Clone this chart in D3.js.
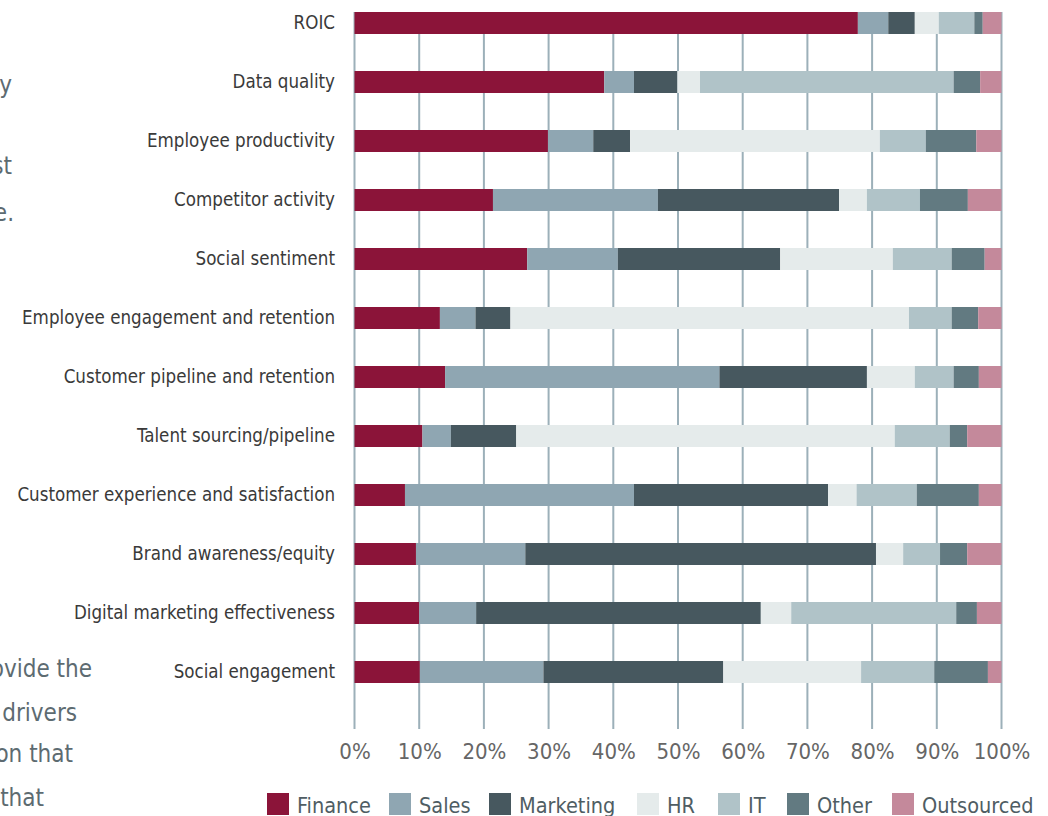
<!DOCTYPE html>
<html>
<head>
<meta charset="utf-8">
<script src="https://cdn.jsdelivr.net/npm/d3@7"></script>
<style>
  body { margin: 0; background: #fff; }
  svg text { font-family: "Liberation Sans Narrow", "DejaVu Sans Condensed", sans-serif; }
</style>
</head>
<body>
<script>
// chart data (percent of respondents)
var categories = ["ROIC", "Data quality", "Employee productivity", "Competitor activity",
  "Social sentiment", "Employee engagement and retention", "Customer pipeline and retention",
  "Talent sourcing/pipeline", "Customer experience and satisfaction", "Brand awareness/equity",
  "Digital marketing effectiveness", "Social engagement"];
var seriesNames = ["Finance", "Sales", "Marketing", "HR", "IT", "Other", "Outsourced"];
var finance    = [77.8, 38.6, 29.9, 21.4, 26.7, 13.2, 14.0, 10.5,  7.8,  9.5, 10.0, 10.1];
var sales      = [ 4.7,  4.6,  7.0, 25.5, 14.0,  5.5, 42.4,  4.4, 35.4, 16.9,  8.8, 19.1];
var marketing  = [ 4.1,  6.7,  5.7, 28.0, 25.1,  5.4, 22.8, 10.1, 30.0, 54.2, 44.0, 27.8];
var hr         = [ 3.7,  3.5, 38.6,  4.3, 17.4, 61.6,  7.4, 58.5,  4.4,  4.2,  4.7, 21.3];
var it         = [ 5.5, 39.2,  7.1,  8.2,  9.1,  6.6,  6.0,  8.5,  9.3,  5.7, 25.5, 11.3];
var other      = [ 1.3,  4.1,  7.8,  7.4,  5.1,  4.1,  3.9,  2.7,  9.6,  4.2,  3.2,  8.3];
var outsourced = [ 2.9,  3.3,  3.9,  5.2,  2.6,  3.6,  3.5,  5.3,  3.5,  5.3,  3.8,  2.1];
var xTicks = [0, 10, 20, 30, 40, 50, 60, 70, 80, 90, 100];

var colors = ["#8b1439", "#8fa6b2", "#47585f", "#e5ebeb", "#b0c3c8", "#627a81", "#c4899b"];

var rows = categories.map(function(c, i) {
  return { name: c, Finance: finance[i], Sales: sales[i], Marketing: marketing[i], HR: hr[i],
    IT: it[i], Other: other[i], Outsourced: outsourced[i] };
});

var w = 1048, h = 816;
var svg = d3.select("body").append("svg").attr("width", w).attr("height", h);

// cut-off paragraph text at the left edge (the page crop cuts it in the original too)
var sideText = [["y", 12, 93], ["st", 12, 174], ["e.", 14, 221],
  ["ovide the", 92, 677], ["drivers", 77, 721], ["on that", 73, 762], ["that", 44, 806]];
svg.selectAll(".side").data(sideText).enter().append("text")
  .attr("class", "side")
  .attr("x", function(d) { return d[1]; })
  .attr("y", function(d) { return d[2]; })
  .attr("text-anchor", "end")
  .attr("fill", "#5d6b71")
  .style("font-size", "24px")
  .text(function(d) { return d[0]; });

var x = d3.scaleLinear().domain([0, 100]).range([354.5, 1001.5]);
var y = d3.scaleBand().domain(categories).range([-6.5, 701.5]).paddingInner(37 / 59).paddingOuter(37 / 118);

// grid lines
svg.append("g").selectAll("line").data(xTicks).enter().append("line")
  .attr("x1", function(d) { return x(d); })
  .attr("x2", function(d) { return x(d); })
  .attr("y1", 12).attr("y2", 729)
  .attr("stroke", "#9cb0b9").attr("stroke-width", 2);

var stack = d3.stack().keys(seriesNames)(rows);

svg.append("g").selectAll("g").data(stack).enter().append("g")
  .attr("fill", function(d, i) { return colors[i]; })
  .selectAll("rect").data(function(d) { return d; }).enter().append("rect")
  .attr("x", function(d) { return x(d[0]); })
  .attr("width", function(d) { return x(d[1]) - x(d[0]); })
  .attr("y", function(d) { return y(d.data.name); })
  .attr("height", y.bandwidth());

// category labels
svg.append("g").selectAll("text").data(categories).enter().append("text")
  .attr("x", 335)
  .attr("y", function(d) { return y(d) + y.bandwidth() / 2 - 1; })
  .attr("dy", "0.35em")
  .attr("text-anchor", "end")
  .attr("fill", "#3a3a3a")
  .style("font-size", "18.6px")
  .text(function(d) { return d; });

// x axis labels
var xAxis = d3.axisBottom(x).tickValues(xTicks).tickSize(0).tickPadding(0)
  .tickFormat(function(d) { return d + "%"; });
var gx = svg.append("g").attr("transform", "translate(0,751)").call(xAxis);
gx.select(".domain").remove();
gx.selectAll("text").attr("dy", "0.35em").attr("fill", "#666")
  .style("font-size", "22px").style("font-family", "'Liberation Sans Narrow', 'DejaVu Sans Condensed', sans-serif");

// legend
var legendX = [267, 389, 489, 637, 718, 787, 892];
var legend = svg.append("g").selectAll("g").data(seriesNames).enter().append("g")
  .attr("transform", function(d, i) { return "translate(" + legendX[i] + ",793)"; });
legend.append("rect").attr("width", 22).attr("height", 22)
  .attr("fill", function(d, i) { return colors[i]; });
legend.append("text").attr("x", 30).attr("y", 20)
  .attr("fill", "#4f5d63")
  .style("font-size", "21.5px")
  .text(function(d) { return d; });
</script>
</body>
</html>
